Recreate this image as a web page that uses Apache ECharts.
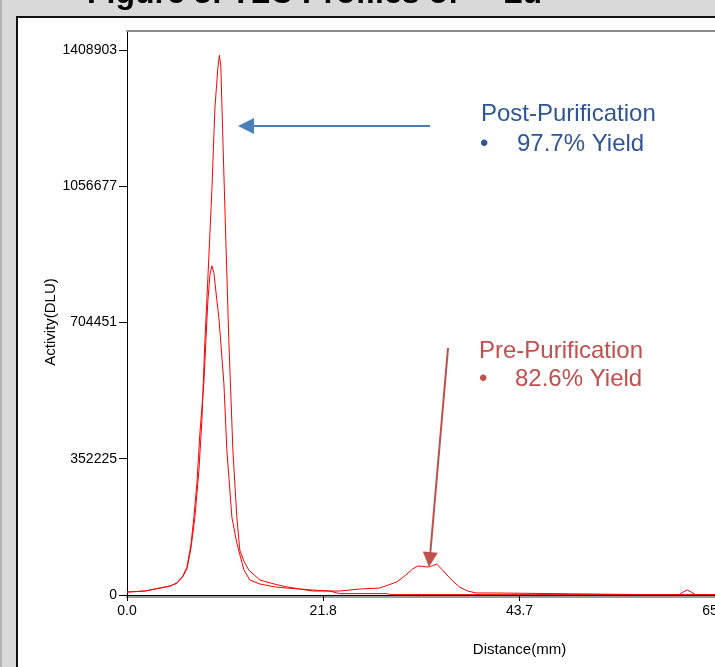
<!DOCTYPE html>
<html>
<head>
<meta charset="utf-8">
<title>TLC Profiles</title>
<script src="https://cdn.jsdelivr.net/npm/echarts@6/dist/echarts.min.js"></script>
<style>
   html, body { margin: 0; padding: 0; width: 715px; height: 667px; overflow: hidden; }
   body { background: #d9d9d9; position: relative; }
   #edge { position: absolute; left: 0; top: 0; width: 2px; height: 667px; background: #b4b4b4; }
   #panel { position: absolute; left: 16px; top: 16px; width: 800px; height: 700px; background: #fff; border: 2px solid #111; }
   #chart { position: absolute; left: 0; top: 0; width: 715px; height: 667px; }
</style>
</head>
<body>
<div id="edge"></div>
<div id="panel"></div>
<div id="chart"></div>
<script>
/* Post-purification scan */
var postDistance = [0, 2.0, 3.67, 4.78, 5.56, 6.22, 6.67, 7.11, 7.55, 8.0, 8.33, 8.67, 9.0, 9.44, 9.78, 10.11, 10.28, 10.44, 10.67, 11.0, 11.33, 11.78, 12.22, 12.55, 13.0, 13.55, 14.78, 16.44, 17.78, 19.22, 20.66, 22.55, 23.66, 29.0, 29.3, 45.0, 45.22, 45.45, 66.0];
var postActivity = [7700, 10300, 18000, 23000, 31000, 48000, 68000, 120000, 200000, 322000, 450000, 658000, 820000, 1045000, 1259000, 1362000, 1395000, 1367000, 1174000, 916000, 658000, 374000, 201000, 116000, 88000, 64500, 38700, 28000, 21000, 15500, 12900, 10300, 3500, 3500, 1000, 1000, 5000, 1000, 1000];

/* Pre-purification scan */
var preDistance = [0, 2.0, 3.67, 4.78, 5.56, 6.22, 6.67, 7.11, 7.44, 7.78, 8.11, 8.55, 8.78, 9.0, 9.22, 9.44, 9.67, 10.0, 10.22, 10.78, 11.11, 11.67, 12.22, 13.0, 13.67, 14.78, 16.44, 17.78, 19.22, 20.66, 23.66, 25.89, 28.11, 30.0, 30.89, 31.77, 32.33, 32.88, 33.44, 33.88, 34.44, 35.11, 36.11, 37.0, 37.89, 38.88, 41.11, 41.3, 57.7, 57.88, 58.1, 61.44, 61.88, 62.33, 62.77, 63.22, 66.0];
var preActivity = [7700, 10300, 18000, 23000, 31000, 49000, 72000, 129000, 201000, 289000, 418000, 547000, 658000, 761000, 826000, 851000, 833000, 761000, 717000, 547000, 374000, 201000, 134000, 65000, 38700, 28400, 21000, 18000, 15500, 10300, 10300, 15500, 18000, 33500, 49000, 67000, 74800, 74000, 72200, 74800, 80000, 64500, 38700, 20600, 10300, 5200, 5200, 1000, 1000, 5200, 1000, 1000, 7700, 13000, 7700, 1000, 1000];

/* Axis ticks */
var xTicks = [0, 21.833, 43.667, 65.5, 87.333];
var xTickLabels = ['0.0', '21.8', '43.7', '65.5', '87.3'];
var yTicks = [0, 352225.75, 704451.5, 1056677.25, 1408903];
var yTickLabels = ['0', '352225', '704451', '1056677', '1408903'];

var FONT = '"Liberation Sans", Arial, Helvetica, sans-serif';
var BLUE_TXT = '#2f5597';
var BLUE_ARR = '#4a7ebb';
var RED_TXT = '#c0504d';

function pairs(xs, ys) {
   var out = [];
   for (var i = 0; i < xs.length; i++) {
      out.push([xs[i], ys[i]]);
   }
   return out;
}

function lookup(ticks, labels, v) {
   for (var i = 0; i < ticks.length; i++) {
      if (Math.abs(ticks[i] - v) < 1e-6 * Math.max(1, Math.abs(v))) return labels[i];
   }
   return '';
}

var chart = echarts.init(document.getElementById('chart'));

var option = {
   animation: false,
   grid: { left: 127, top: 31, width: 785, height: 564, outerBoundsMode: 'none', containLabel: false },
   xAxis: [
      {
         type: 'value', min: 0, max: 87.333,
         name: 'Distance(mm)', nameLocation: 'middle', nameGap: 47,
         nameTextStyle: { color: '#000', fontSize: 15, fontFamily: FONT },
         axisLine: { lineStyle: { color: '#000', width: 1 } },
         axisTick: { length: 6, lineStyle: { color: '#000' }, customValues: xTicks },
         axisLabel: {
            color: '#000', fontSize: 14, fontFamily: FONT, margin: 9,
            customValues: xTicks,
            formatter: function (v) { return lookup(xTicks, xTickLabels, v); }
         },
         splitLine: { show: false }
      },
      {
         /* grey shadow under the baseline */
         type: 'value', min: 0, max: 87.333, position: 'bottom', offset: 2,
         axisLine: { lineStyle: { color: '#9a9a9a', width: 2 } },
         axisTick: { show: false }, axisLabel: { show: false }, splitLine: { show: false }
      },
      {
         /* top frame */
         type: 'value', min: 0, max: 87.333, position: 'top',
         axisLine: { lineStyle: { color: '#8c8c8c', width: 2 } },
         axisTick: { show: false }, axisLabel: { show: false }, splitLine: { show: false }
      }
   ],
   yAxis: {
      type: 'value', min: 0, max: 1458000,
      name: 'Activity(DLU)', nameLocation: 'middle', nameGap: 69, nameMoveOverlap: false,
      nameTextStyle: { color: '#000', fontSize: 15, fontFamily: FONT, padding: [0, 18, 0, 0] },
      axisLine: { show: true, lineStyle: { color: '#000', width: 1 } },
      axisTick: { show: true, length: 8, lineStyle: { color: '#000' }, customValues: yTicks },
      axisLabel: {
         color: '#000', fontSize: 14, fontFamily: FONT, margin: 10,
         customValues: yTicks,
         formatter: function (v) { return lookup(yTicks, yTickLabels, v); }
      },
      splitLine: { show: false }
   },
   series: [
      {
         name: 'Post-Purification', type: 'line', xAxisIndex: 0,
         data: pairs(postDistance, postActivity),
         showSymbol: false, symbol: 'none',
         lineStyle: { color: '#ff0000', width: 1 }, z: 3
      },
      {
         name: 'Pre-Purification', type: 'line', xAxisIndex: 0,
         data: pairs(preDistance, preActivity),
         showSymbol: false, symbol: 'none',
         lineStyle: { color: '#ff0000', width: 1 }, z: 3
      }
   ],
   graphic: [
      /* slide title, mostly cut off by the crop */
      { type: 'text', x: 87, y: -6, style: { text: 'Figure 3: TLC Profiles of', font: 'bold 32px ' + FONT, fill: '#000', verticalAlign: 'middle' } },
      { type: 'text', x: 468, y: -26, style: { text: '177', font: 'bold 19px ' + FONT, fill: '#000', verticalAlign: 'middle' } },
      { type: 'text', x: 503, y: -6, style: { text: 'Lu', font: 'bold 32px ' + FONT, fill: '#000', verticalAlign: 'middle' } },

      /* post-purification note */
      { type: 'text', x: 481, y: 114, z: 10, style: { text: 'Post-Purification', font: '24px ' + FONT, fill: BLUE_TXT, verticalAlign: 'middle' } },
      { type: 'text', x: 480, y: 144, z: 10, style: { text: '\u2022', font: '24px ' + FONT, fill: BLUE_TXT, verticalAlign: 'middle' } },
      { type: 'text', x: 517, y: 144, z: 10, style: { text: '97.7% Yield', font: '24px ' + FONT, fill: BLUE_TXT, verticalAlign: 'middle' } },
      { type: 'line', z: 10, shape: { x1: 253, y1: 126, x2: 430, y2: 126 }, style: { stroke: BLUE_ARR, lineWidth: 2 } },
      { type: 'polygon', z: 10, shape: { points: [[238, 126], [254, 118], [254, 134]] }, style: { fill: BLUE_ARR } },

      /* pre-purification note */
      { type: 'text', x: 479, y: 351, z: 10, style: { text: 'Pre-Purification', font: '24px ' + FONT, fill: RED_TXT, verticalAlign: 'middle' } },
      { type: 'text', x: 479, y: 379, z: 10, style: { text: '\u2022', font: '24px ' + FONT, fill: RED_TXT, verticalAlign: 'middle' } },
      { type: 'text', x: 515, y: 379, z: 10, style: { text: '82.6% Yield', font: '24px ' + FONT, fill: RED_TXT, verticalAlign: 'middle' } },
      { type: 'line', z: 10, shape: { x1: 448, y1: 348, x2: 430.3, y2: 553 }, style: { stroke: RED_TXT, lineWidth: 2 } },
      { type: 'polygon', z: 10, shape: { points: [[429, 567], [437.8, 552.7], [422.8, 551.4]] }, style: { fill: RED_TXT } }
   ]
};
chart.setOption(option);
</script>
</body>
</html>
